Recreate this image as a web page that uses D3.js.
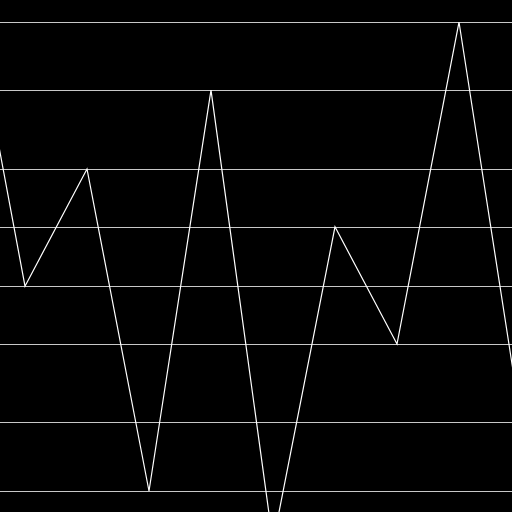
<!DOCTYPE html>
<html>
<head>
<meta charset="utf-8">
<script src="https://cdn.jsdelivr.net/npm/d3@7"></script>
<style>
  html, body { margin: 0; padding: 0; background: #000; overflow: hidden; }
</style>
</head>
<body>
<div id="chart"></div>
<script>
// donnees
const indices = [0, 1, 2, 3, 4, 5, 6, 7, 8, 9];
const valeurs = [109, 44.1, 67, 4.1, 82.4, -6, 55.7, 32.8, 95.7, 17.6];
// lignes de grille = valeurs visibles
const grille = [44.1, 67, 4.1, 82.4, 55.7, 32.8, 95.7, 17.6];

const width = 512;
const height = 512;

const svg = d3.select("#chart")
    .append("svg")
    .attr("width", width)
    .attr("height", height)
    .style("background-color", "black");

// la serie deborde un peu de la fenetre a gauche et a droite
const x = d3.scaleLinear()
    .domain([0, 9])
    .range([-37, 521]);

const y = d3.scaleLinear()
    .domain([0, 100])
    .range([height, 0]);

// grille horizontale
const axeY = d3.axisLeft(y)
    .tickValues(grille)
    .tickSize(-width)
    .tickFormat("");

svg.append("g")
    .attr("class", "grille")
    .call(axeY)
    .call(g => g.select(".domain").remove())
    .selectAll("line")
    .attr("stroke", "#c8c8c8")
    .attr("stroke-width", 1)
    .attr("shape-rendering", "crispEdges");

// la courbe
const ligne = d3.line()
    .x((d, i) => x(indices[i]))
    .y(d => y(d));

svg.append("path")
    .datum(valeurs)
    .attr("d", ligne)
    .attr("fill", "none")
    .attr("stroke", "white")
    .attr("stroke-width", 1.2);
</script>
</body>
</html>
